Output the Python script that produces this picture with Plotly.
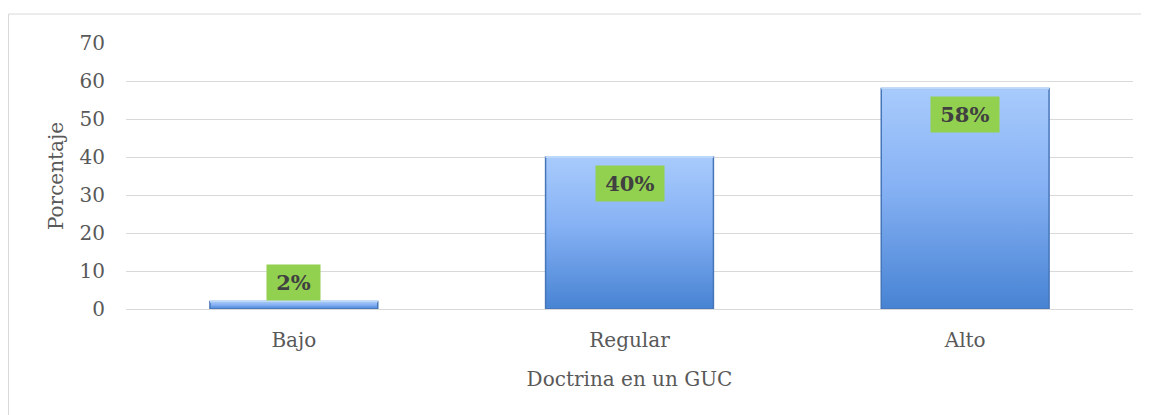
import plotly.graph_objects as go

categories = ["Bajo", "Regular", "Alto"]
values = [2, 40, 58]
labels = ["2%", "40%", "58%"]
y_ticks = [0, 10, 20, 30, 40, 50, 60, 70]

FONT = "DejaVu Serif"
# page body has an 8px margin, so the figure is offset by 8px
W, H = 1141, 407
ML, MR, MT, MB = 118, 16, 35, 106
half = 0.25

fig = go.Figure()
for i, v in enumerate(values):
    xs = [i - half, i + half, i + half, i - half, i - half]
    ys = [0, 0, v, v, 0]
    fig.add_trace(go.Scatter(
        x=xs, y=ys, mode="lines", fill="toself",
        line=dict(color="#4776b8", width=1.5),
        fillgradient=dict(type="vertical",
                          colorscale=[[0, "#4783d3"], [0.55, "#86b1f4"], [1, "#a8cbfc"]]),
        hoverinfo="skip", showlegend=False,
    ))
    fig.add_trace(go.Scatter(
        x=[i - half, i + half], y=[v, v], mode="lines",
        line=dict(color="#bcd8fb", width=2), hoverinfo="skip", showlegend=False,
    ))

for i, (v, t) in enumerate(zip(values, labels)):
    inside = v >= 10
    fig.add_annotation(
        x=i, y=v, text="<b>&#8201;" + t + "&#8201;</b>", showarrow=False,
        yanchor="middle" if inside else "bottom",
        yshift=-26 if inside else 0,
        font=dict(family=FONT, size=21, color="#404040"),
        bgcolor="#92d050", borderpad=5,
    )

pw = W - ML - MR
ph = H - MT - MB
fig.add_shape(type="rect", xref="paper", yref="paper",
              x0=(0.5 - ML) / pw, x1=(W - 2 - ML) / pw,
              y0=-0.5, y1=(H - MB - 6) / ph,
              line=dict(color="#d9d9d9", width=1), layer="below")

fig.update_layout(
    width=W, height=H,
    margin=dict(l=ML, r=MR, t=MT, b=MB),
    paper_bgcolor="white", plot_bgcolor="white",
    font=dict(family=FONT, size=20, color="#595959"),
    xaxis=dict(range=[-0.5, 2.5], tickvals=list(range(len(categories))),
               ticktext=categories, showgrid=False, zeroline=False,
               showline=False, ticks="", ticklabelstandoff=17,
               title=dict(text="Doctrina en un GUC", standoff=20,
                          font=dict(family=FONT, size=20, color="#595959"))),
    yaxis=dict(range=[0, 70], tickvals=y_ticks, showgrid=True,
               gridcolor="#d9d9d9", gridwidth=1.3, zeroline=True,
               zerolinecolor="#d9d9d9", zerolinewidth=1.3, showline=False,
               ticks="", ticklabelstandoff=20,
               title=dict(text="Porcentaje", standoff=10,
                          font=dict(family=FONT, size=20, color="#595959"))),
)

fig.write_html("out.html")
